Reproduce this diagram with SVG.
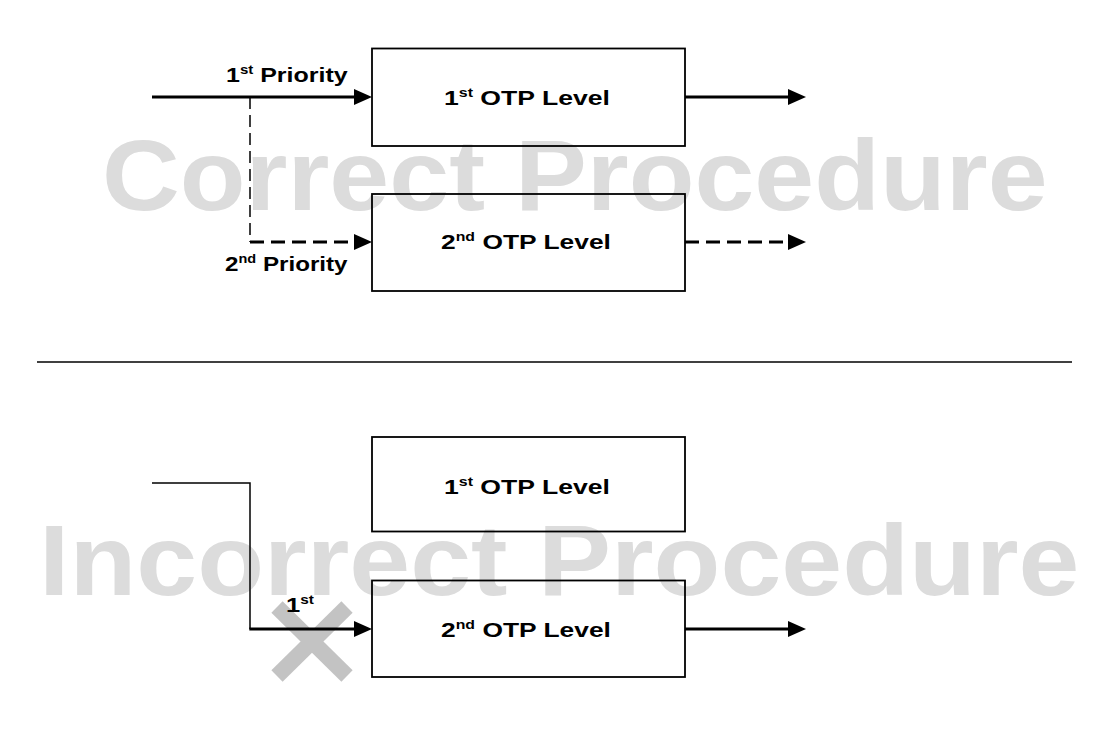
<svg xmlns="http://www.w3.org/2000/svg" width="1093" height="734" viewBox="0 0 1093 734">
<style>
.wm{font-family:"Liberation Sans",Arial,sans-serif;font-weight:bold;font-size:100px;fill:#dcdcdc}
.lbl{font-family:"Liberation Sans",Arial,sans-serif;font-weight:bold;font-size:20px;fill:#000}
.sup{font-size:12px}
.box{fill:none;stroke:#000;stroke-width:1.8}
.thick{fill:none;stroke:#000;stroke-width:3}
.thin{fill:none;stroke:#000;stroke-width:1.5}
.dash{stroke-dasharray:14 7}
.vdash{stroke-dasharray:12 6}
.xmark{stroke:#c3c3c3;stroke-width:16;stroke-linecap:butt}
</style>
<defs>
<marker id="arr" markerUnits="userSpaceOnUse" markerWidth="18" markerHeight="16" refX="8" refY="8" orient="auto">
<path d="M0,0 L18,8 L0,16 z" fill="#000"/>
</marker>
</defs>
<rect width="1093" height="734" fill="#fff"/>
<g id="watermarks">
<text class="wm" transform="translate(102,210) scale(1.077,1)">Correct Procedure</text>
<text class="wm" transform="translate(39,595) scale(1.095,1)">Incorrect Procedure</text>
</g>
<g id="cross">
<line class="xmark" x1="277" y1="607" x2="347" y2="676"/>
<line class="xmark" x1="347" y1="607" x2="277" y2="676"/>
</g>
<line id="separator" class="thin" x1="37" y1="362" x2="1072" y2="362"/>
<g id="connectors">
<line class="thick" x1="152" y1="97" x2="362" y2="97" marker-end="url(#arr)"/>
<line class="thin vdash" x1="250" y1="97" x2="250" y2="242"/>
<line class="thick dash" x1="250" y1="242" x2="362" y2="242" marker-end="url(#arr)"/>
<line class="thick" x1="685" y1="97" x2="796" y2="97" marker-end="url(#arr)"/>
<line class="thick dash" x1="685" y1="242" x2="796" y2="242" marker-end="url(#arr)"/>
<path class="thin" d="M152,483 H250 V629"/>
<line class="thick" x1="249.3" y1="629" x2="362" y2="629" marker-end="url(#arr)"/>
<line class="thick" x1="685" y1="629" x2="796" y2="629" marker-end="url(#arr)"/>
</g>
<g id="top-otp1">
<rect class="box" x="372" y="48.5" width="313" height="97.5"/>
<text class="lbl" transform="translate(444,105) scale(1.33,1)">1<tspan class="sup" dy="-8">st</tspan><tspan dy="8"> OTP Level</tspan></text>
</g>
<g id="top-otp2">
<rect class="box" x="372" y="194" width="313" height="97"/>
<text class="lbl" transform="translate(441,249) scale(1.32,1)">2<tspan class="sup" dy="-8">nd</tspan><tspan dy="8"> OTP Level</tspan></text>
</g>
<g id="bottom-otp1">
<rect class="box" x="372" y="437" width="313" height="94.5"/>
<text class="lbl" transform="translate(444,494) scale(1.33,1)">1<tspan class="sup" dy="-8">st</tspan><tspan dy="8"> OTP Level</tspan></text>
</g>
<g id="bottom-otp2">
<rect class="box" x="372" y="580.5" width="313" height="96.5"/>
<text class="lbl" transform="translate(441,637) scale(1.32,1)">2<tspan class="sup" dy="-8">nd</tspan><tspan dy="8"> OTP Level</tspan></text>
</g>
<g id="connector-labels">
<text class="lbl" transform="translate(226,82) scale(1.25,1)">1<tspan class="sup" dy="-8">st</tspan><tspan dy="8"> Priority</tspan></text>
<text class="lbl" transform="translate(225,271) scale(1.21,1)">2<tspan class="sup" dy="-8">nd</tspan><tspan dy="8"> Priority</tspan></text>
<text class="lbl" transform="translate(286,612) scale(1.28,1)">1<tspan class="sup" dy="-8">st</tspan></text>
</g>
</svg>
